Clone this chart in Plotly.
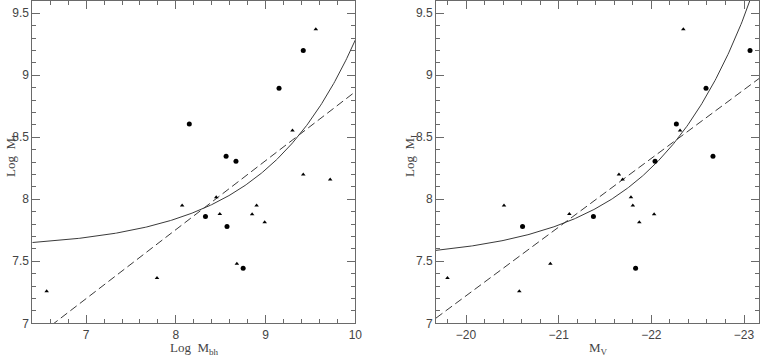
import numpy as np
import plotly.graph_objects as go

# ─── data ────────────────────────────────────
# left panel: Log M_bh vs Log M_I
BH_CIRC_X = [9.42, 9.15, 8.15, 8.56, 8.67, 8.33, 8.57, 8.75]
BH_CIRC_Y = [9.20, 8.895, 8.606, 8.346, 8.306, 7.861, 7.78, 7.443]
BH_TRI_X = [9.56, 9.30, 9.42, 9.72, 8.07, 8.45, 8.49, 8.90, 8.85, 8.99, 8.68, 7.79, 6.56]
BH_TRI_Y = [9.37, 8.555, 8.20, 8.16, 7.95, 8.016, 7.882, 7.95, 7.88, 7.815, 7.48, 7.365, 7.258]

# right panel: M_V vs Log M_I
MV_CIRC_X = [-23.065, -22.59, -22.27, -22.665, -22.04, -21.375, -20.61, -21.83]
MV_CIRC_Y = [9.20, 8.895, 8.606, 8.346, 8.306, 7.861, 7.78, 7.443]
MV_TRI_X = [-22.345, -22.31, -21.65, -21.69, -20.41, -21.115, -21.78, -21.80,
            -21.87, -22.03, -20.91, -20.575, -19.80]
MV_TRI_Y = [9.37, 8.555, 8.20, 8.16, 7.95, 7.882, 8.016, 7.95,
            7.815, 7.88, 7.48, 7.258, 7.365]

# fit lines: dashed = straight line, solid = a + b*exp(c*(x - x0))
BH_LIN = dict(x0=6.642, y0=7.0, slope=0.556)
BH_EXP = dict(a=7.600, b=1.684, c=0.97, x0=10.0)
MV_LIN = dict(x0=19.712, y0=7.062, slope=0.554)      # in terms of -M_V
MV_EXP = dict(a=7.510, b=1.961, c=0.97, x0=23.0)      # in terms of -M_V

X_RANGE_BH = [6.4, 10.0]
X_RANGE_MV = [-19.676, -23.165]
Y_RANGE = [7.0, 9.6]

# ─── style ───────────────────────────────────
W, H = 760, 356
FRAME = "#6a6a6a"
INK = "#3a3a3a"
TICK_FONT = dict(family="Liberation Sans", size=12, color="#444")
TITLE_FONT = dict(family="Liberation Serif", size=13, color="#444")

fig = go.Figure()


def add_points(xs, ys, symbol, size, xa, ya):
    fig.add_trace(go.Scatter(
        x=xs, y=ys, mode="markers", xaxis=xa, yaxis=ya,
        marker=dict(symbol=symbol, size=size, color="black", line=dict(width=0)),
        showlegend=False,
    ))


def add_line(xs, ys, dash, xa, ya):
    fig.add_trace(go.Scatter(
        x=xs, y=ys, mode="lines", xaxis=xa, yaxis=ya,
        line=dict(color=INK, width=1, dash=dash),
        showlegend=False,
    ))


# left panel
xb = np.linspace(X_RANGE_BH[0], X_RANGE_BH[1], 300)
add_line(xb, BH_LIN["y0"] + BH_LIN["slope"] * (xb - BH_LIN["x0"]), "8px,4px", "x", "y")
add_line(xb, BH_EXP["a"] + BH_EXP["b"] * np.exp(BH_EXP["c"] * (xb - BH_EXP["x0"])), "solid", "x", "y")
add_points(BH_CIRC_X, BH_CIRC_Y, "circle", 5, "x", "y")
add_points(BH_TRI_X, BH_TRI_Y, "triangle-up", 4, "x", "y")

# right panel
u = np.linspace(-X_RANGE_MV[0], -X_RANGE_MV[1], 300)
add_line(-u, MV_LIN["y0"] + MV_LIN["slope"] * (u - MV_LIN["x0"]), "8px,4px", "x2", "y2")
add_line(-u, MV_EXP["a"] + MV_EXP["b"] * np.exp(MV_EXP["c"] * (u - MV_EXP["x0"])), "solid", "x2", "y2")
add_points(MV_CIRC_X, MV_CIRC_Y, "circle", 5, "x2", "y2")
add_points(MV_TRI_X, MV_TRI_Y, "triangle-up", 4, "x2", "y2")

axis_common = dict(
    showline=True, linecolor=FRAME, linewidth=1, mirror="allticks",
    ticks="inside", ticklen=8, tickcolor=FRAME, tickwidth=1,
    showgrid=False, zeroline=False, tickfont=TICK_FONT, automargin=False,
)
minor_x = dict(dtick=0.2, ticklen=4, ticks="inside", tickcolor=FRAME)
minor_y = dict(dtick=0.1, ticklen=4, ticks="inside", tickcolor=FRAME)

y_dom = [(H - 323.3) / H, 1 - 0.8 / H]

fig.update_layout(
    template="none",
    width=W, height=H,
    margin=dict(l=0, r=0, t=0, b=0, autoexpand=False),
    plot_bgcolor="white", paper_bgcolor="white",
    showlegend=False,
    xaxis=dict(**axis_common, domain=[32.3 / W, 355.3 / W], range=X_RANGE_BH,
               dtick=1, tick0=0, anchor="y", minor=minor_x),
    yaxis=dict(**axis_common, domain=y_dom, range=Y_RANGE, dtick=0.5, tick0=0,
               anchor="x", minor=minor_y),
    xaxis2=dict(**axis_common, domain=[436.0 / W, 759.3 / W], range=X_RANGE_MV,
                dtick=1, tick0=0, anchor="y2", minor=minor_x),
    yaxis2=dict(**axis_common, domain=y_dom, range=Y_RANGE, dtick=0.5, tick0=0,
                anchor="x2", minor=minor_y),
)

# axis titles placed as paper annotations (pixel positions from the reference)
titles = [
    ("Log  M<sub>bh</sub>", 194, 348, 0),
    ("M<sub>V</sub>", 598, 348, 0),
    ("Log  M<sub>I</sub>", 11, 156, -90),
    ("Log  M<sub>I</sub>", 410, 156, -90),
]
for text, px, py, ang in titles:
    fig.add_annotation(
        text=text, xref="paper", yref="paper", x=px / W, y=1 - py / H,
        xanchor="center", yanchor="middle", textangle=ang, showarrow=False,
        font=TITLE_FONT,
    )

# the page's default 8px body margin would push the figure out of the window
fig.write_html(
    "out.html",
    config={"displayModeBar": False},
    post_script="document.body.style.margin='0';document.body.style.overflow='hidden';",
)
